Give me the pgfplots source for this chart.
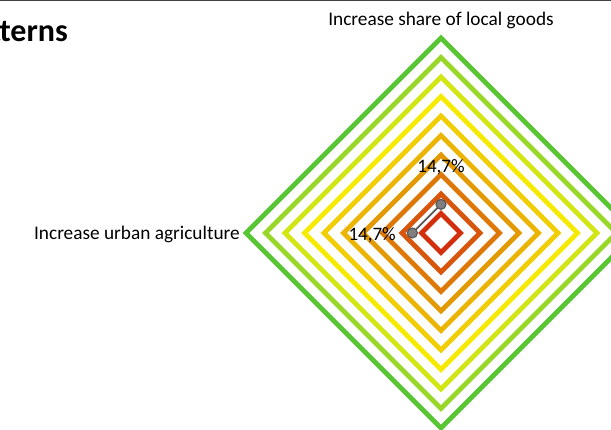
\documentclass[border=0pt]{standalone}
\usepackage{pgfplots}
\pgfplotsset{compat=1.18}
\usepackage{fontspec}
\setmainfont{Carlito}

\definecolor{r1}{HTML}{D2300C}
\definecolor{r2}{HTML}{D8560A}
\definecolor{r3}{HTML}{DD7806}
\definecolor{r4}{HTML}{E39A02}
\definecolor{r5}{HTML}{EBB400}
\definecolor{r6}{HTML}{F2CE00}
\definecolor{r7}{HTML}{F5EA00}
\definecolor{r8}{HTML}{D2E614}
\definecolor{r9}{HTML}{98D628}
\definecolor{r10}{HTML}{58C632}
\definecolor{serie}{HTML}{595959}
\definecolor{dot}{HTML}{7F7F7F}

\begin{document}
\begin{tikzpicture}
\begin{axis}[
    name=ax,
    scale only axis,
    width=611pt, height=430pt,
    xmin=-22.615, xmax=8.718,
    ymin=-10.103, ymax=11.949,
    hide axis,
    ring/.style={line width=4.8pt, line join=miter, mark=none},
]
% grid rings, 10% .. 100%
\addplot[ring, r1]  coordinates {(0,1) (1,0) (0,-1) (-1,0)} -- cycle;
\addplot[ring, r2]  coordinates {(0,2) (2,0) (0,-2) (-2,0)} -- cycle;
\addplot[ring, r3]  coordinates {(0,3) (3,0) (0,-3) (-3,0)} -- cycle;
\addplot[ring, r4]  coordinates {(0,4) (4,0) (0,-4) (-4,0)} -- cycle;
\addplot[ring, r5]  coordinates {(0,5) (5,0) (0,-5) (-5,0)} -- cycle;
\addplot[ring, r6]  coordinates {(0,6) (6,0) (0,-6) (-6,0)} -- cycle;
\addplot[ring, r7]  coordinates {(0,7) (7,0) (0,-7) (-7,0)} -- cycle;
\addplot[ring, r8]  coordinates {(0,8) (8,0) (0,-8) (-8,0)} -- cycle;
\addplot[ring, r9]  coordinates {(0,9) (9,0) (0,-9) (-9,0)} -- cycle;
\addplot[ring, r10] coordinates {(0,10) (10,0) (0,-10) (-10,0)} -- cycle;

% series: 14,7% on two axes
\addplot[serie, line width=1.8pt, mark=*, mark size=5pt,
    mark options={fill=dot, draw=serie, line width=1.2pt}]
    coordinates {(0,1.47) (-1.47,0)};

\node[anchor=base, font=\fontsize{19}{22}\selectfont] at (axis cs:0,3.08) {14,7\%};
\node[anchor=base east, inner sep=0pt, font=\fontsize{19}{22}\selectfont] at (axis cs:-2.31,-0.36) {14,7\%};

\node[anchor=base, font=\fontsize{19.3}{22}\selectfont] at (axis cs:0,10.62) {Increase share of local goods};
\node[anchor=base east, inner sep=0pt, font=\fontsize{19.3}{22}\selectfont] at (axis cs:-10.31,-0.31) {Increase urban agriculture};

\node[anchor=base east, inner sep=0pt, font=\fontsize{32}{36}\selectfont\bfseries] at (rel axis cs:0.1113,0.9035) {Consumption patterns};
\draw[line width=1.5pt, color=black!75] (rel axis cs:0,0.9983) -- (rel axis cs:1,0.9983);
\end{axis}
\pgfresetboundingbox
\useasboundingbox (ax.south west) rectangle (ax.north east);
\end{tikzpicture}
\end{document}
